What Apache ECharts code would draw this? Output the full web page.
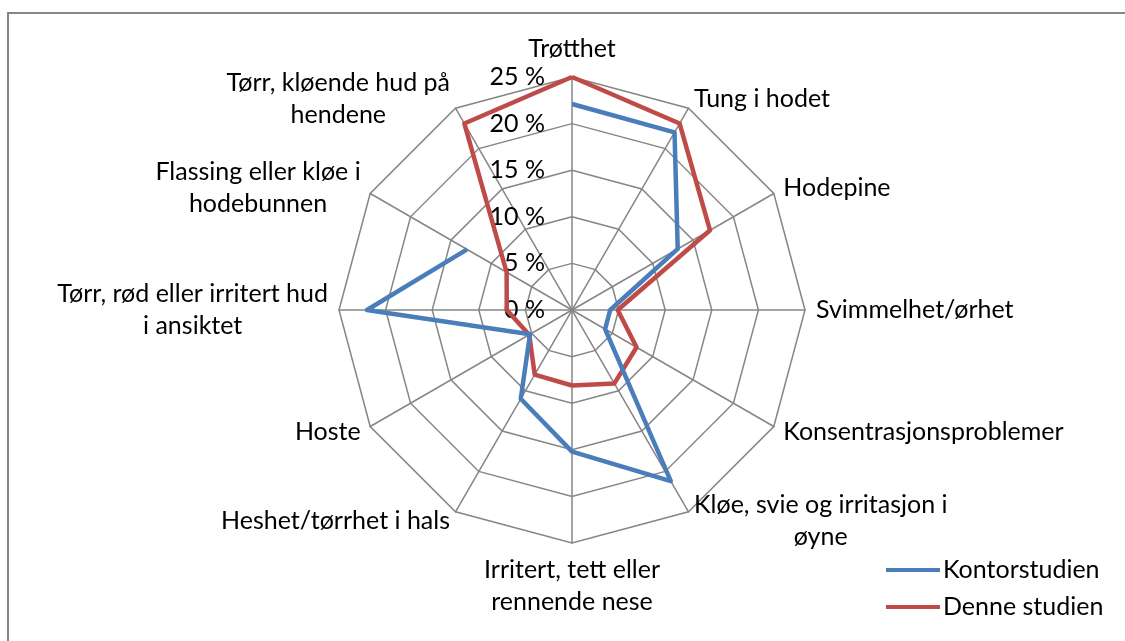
<!DOCTYPE html>
<html>
<head>
<meta charset="utf-8">
<script src="https://cdn.jsdelivr.net/npm/echarts@6/dist/echarts.min.js"></script>
<style>
html,body{margin:0;padding:0;background:#fff;}
#chart{width:1125px;height:641px;}
</style>
</head>
<body>
<div id="chart"></div>
<script>
// Categories in clockwise order starting at the top
const categories = [
  'Trøtthet',
  'Tung i hodet',
  'Hodepine',
  'Svimmelhet/ørhet',
  'Konsentrasjonsproblemer',
  'Kløe, svie og irritasjon i\nøyne',
  'Irritert, tett eller\nrennende nese',
  'Heshet/tørrhet i hals',
  'Hoste',
  'Tørr, rød eller irritert hud\ni ansiktet',
  'Flassing eller kløe i\nhodebunnen',
  'Tørr, kløende hud på\nhendene'
];
const seriesNames = ['Kontorstudien', 'Denne studien'];
const kontorstudien = [22.1, 22.0, 13.1, 4.1, 4.1, 21.2, 15.2, 11.0, 5.2, 22.0, 13.0, null];
const denneStudien  = [25.0, 23.1, 17.1, 4.9, 8.0, 9.1, 8.1, 8.0, 5.3, 7.0, 8.1, 23.1];
const axisMax = 25;
const tickStep = 5;

const FONT = 'Lato, "Open Sans", sans-serif';
const FS = 25;
const gridColor = '#868686';
const blue = '#4A7EBB';
const red = '#BE4B48';

// ECharts radar places indicators counter-clockwise; reorder so they run clockwise.
const order = [0].concat(categories.map((_, i) => i).slice(1).reverse());

const indicator = order.map((idx, k) => ({
  name: categories[idx],
  min: 0,
  max: axisMax,
  axisLabel: { show: k === 0 }
}));

const chart = echarts.init(document.getElementById('chart'));
chart.setOption({
  animation: false,
  backgroundColor: '#fff',
  graphic: [{
    type: 'rect',
    shape: { x: 8, y: 13, width: 1200, height: 700 },
    style: { fill: 'none', stroke: gridColor, lineWidth: 2 },
    silent: true
  }],
  legend: {
    orient: 'vertical',
    left: 886,
    top: 557,
    padding: 0,
    icon: 'rect',
    itemWidth: 54,
    itemHeight: 4,
    itemGap: 11,
    data: seriesNames,
    textStyle: { fontFamily: FONT, fontSize: FS, color: '#000', lineHeight: 26, padding: [0, 0, 0, -2] }
  },
  radar: {
    center: [572, 310],
    radius: 233,
    shape: 'polygon',
    splitNumber: axisMax / tickStep,
    startAngle: 90,
    indicator: indicator,
    nameGap: 11,
    axisName: {
      color: '#000',
      fontFamily: FONT,
      fontSize: FS,
      lineHeight: 32,
      formatter: function (name) {
        return name.split('\n').map(l => '{c|' + l + '}').join('\n');
      },
      rich: { c: { align: 'center', fontFamily: FONT, fontSize: FS, lineHeight: 32, color: '#000' } }
    },
    axisLine: { lineStyle: { color: gridColor, width: 1.5 } },
    splitLine: { lineStyle: { color: gridColor, width: 1.5 } },
    splitArea: { show: false },
    axisTick: { show: false },
    axisLabel: {
      show: false,
      color: '#000',
      fontFamily: FONT,
      fontSize: FS,
      margin: 27,
      formatter: v => v + ' %'
    }
  },
  polar: {
    center: [572, 310],
    radius: 233
  },
  angleAxis: {
    type: 'category',
    data: categories,
    boundaryGap: false,
    startAngle: 90,
    clockwise: true,
    axisLine: { show: false },
    axisTick: { show: false },
    axisLabel: { show: false },
    splitLine: { show: false }
  },
  radiusAxis: {
    min: 0,
    max: axisMax,
    axisLine: { show: false },
    axisTick: { show: false },
    axisLabel: { show: false },
    splitLine: { show: false }
  },
  series: [
    {
      name: seriesNames[0],
      type: 'line',
      coordinateSystem: 'polar',
      data: kontorstudien,
      connectNulls: false,
      symbol: 'none',
      lineStyle: { color: blue, width: 4.5, join: 'round' },
      itemStyle: { color: blue }
    },
    {
      name: seriesNames[1],
      type: 'radar',
      symbol: 'none',
      lineStyle: { color: red, width: 4.5, join: 'round' },
      itemStyle: { color: red },
      data: [{ name: seriesNames[1], value: order.map(i => denneStudien[i]) }]
    }
  ]
});
</script>
</body>
</html>
